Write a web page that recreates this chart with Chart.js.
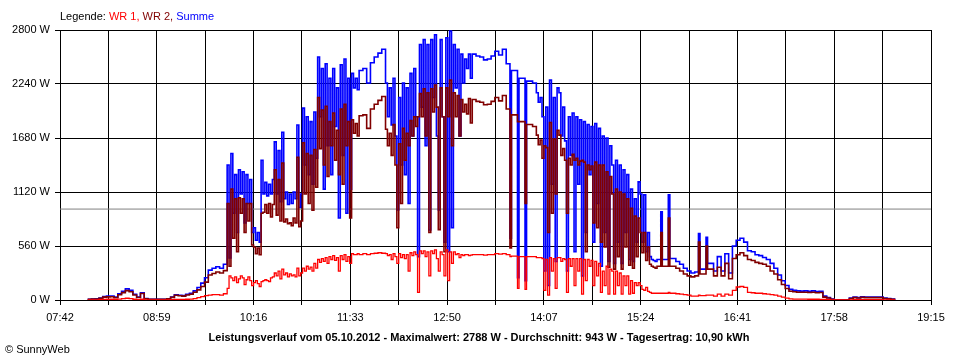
<!DOCTYPE html>
<html>
<head>
<meta charset="utf-8">
<script src="https://cdn.jsdelivr.net/npm/chart.js@4"></script>
<style>
  body { margin:0; background:#fff; }
  #wrap { position:relative; width:960px; height:360px; font-family:"Liberation Sans", Arial, sans-serif; }
  #legend { position:absolute; left:60px; top:10px; font-size:11px; color:#000; white-space:nowrap; }
  #title { position:absolute; left:0; width:958px; top:331px; text-align:center; font-size:11px; font-weight:bold; white-space:nowrap; }
  #copy { position:absolute; left:5px; top:343px; font-size:11px; white-space:nowrap; }
</style>
</head>
<body>
<div id="wrap">
  <canvas id="c" width="960" height="360"></canvas>
  <div id="legend">Legende: <span style="color:#ff0000">WR 1, </span><span style="color:#800000">WR 2, </span><span style="color:#0000ff">Summe</span></div>
  <div id="title">Leistungsverlauf vom 05.10.2012 - Maximalwert: 2788 W - Durchschnitt: 943 W - Tagesertrag: 10,90 kWh</div>
  <div id="copy">© SunnyWeb</div>
</div>
<script>
// axis range in minutes after midnight
const axisStart = 462;   // 07:42
const axisEnd = 1155;    // 19:15
const gridStep = 38.5;
const yTicks = [0, 560, 1120, 1680, 2240, 2800];
const average = 943;

// sample times (minutes after midnight)
const times = [
 484,487,490,493,496,499,502,505,508,511, 514,517,520,523,526,529,532,535,538,541,
 544,547,550,553,556,559,562,565,568,571, 574,577,580,583,586,589,592,
 595,596.5,598,599.5,601,602.5,604,605.5,607,608.5, 610,611.5,613,614.5,616,617.5,619,620.5,622,623.5,
 625,626.5,628,629.5,631,632.5,634,635.5,637,638.5, 640,641.5,643,644.5,646,647.5,649,650.5,652,653.5,
 655,656.5,658,659.5,661,662.5,664,665.5,667,668.5, 670,671.5,673,674.5,676,677.5,679,680.5,682,683.5,
 685,686.5,688,689.5,691,692.5,694,695.5,697,698.5, 700,
 703,706,709,712,715,718,
 721,722.5,724,725.5,727,728.5,730,731.5,733,734.5, 736,737.5,739,740.5,742,743.5,745,746.5,748,749.5,
 751,752.5,754,755.5,757,758.5,760,761.5,763,764.5, 766,767.5,769,770.5,772,773.5,775,776.5,778,779.5,
 781,782.5,784,785.5,787,788.5,790,
 793,796,799,802,805,808,811,814,817,820, 821.2,823,826,827.2,829,832,833.2,835,838,
 841,842.5,844,845.5,847,848.5,850,851.5,853,854.5, 856,857.5,859,860.5,862,863.5,865,866.5,868,869.5,
 871,872.5,874,875.5,877,878.5,880,881.5,883,884.5, 886,887.5,889,890.5,892,893.5,895,896.5,898,899.5,
 901,902.5,904,905.5,907,908.5,910,911.5,913,914.5, 916,917.5,919,920.5,922,923.5,925,926.5,928,929.5,
 931,932.5,934,935.5,937,
 940,941.2,943,946,947.2,949,952,955,958,961, 964,967,970,971.2,973,976,977.2,979,982,985,
 988,991,994,997,1000,1003,1006,
 1009,1012,1015,1018,1021,1024,1027,1030,1033,1036, 1039,1042,1045,1048,1051,1054,1057,1060,1063,1066,
 1069,1072,1075,1078,1081,1084,1087,1090,1093,1096, 1099,1102,1105,1108,1111,1114,1117,1120,1123,1126
];

// Summe (W)
const summe = [
 8,10,12,20,35,40,42,30,65,90, 115,100,60,30,75,15,8,6,6,6,
 8,12,30,55,50,45,60,70,95,130, 175,230,310,330,345,330,370,
 1400,435,1520,900,1300,700,1350,1100,1330,800, 1300,1000,1250,700,750,620,700,600,1450,1100,
 1220,1080,1200,1100,1250,1640,1100,1550,1020,1740, 1050,1120,990,1100,1000,1120,1050,1815,960,1100,
 1990,1400,1900,1300,1850,1200,1950,1470,2520,1900, 2400,1150,2450,1600,2300,1300,2400,1800,2200,850,
 2440,1500,2500,900,2300,1150,2350,2200,2300,2180, 2380,
 2400,2250,2460,2520,2560,2600,
 2250,1900,2200,1815,2300,1700,933,2100,1400,2250, 1300,2200,1000,2350,1700,2400,1900,450,2650,2000,
 2700,1600,2650,726,2700,2100,2750,1700,933,2700, 1900,600,2720,500,2788,750,2650,2200,2600,1700,
 2550,2250,2500,2400,2550,2300,2550,
 2530,2520,2490,2500,2530,2580,2540,2600,2450,640, 2380,2380,230,2300,2300,200,2270,2270,2250,
 2150,2050,2100,1900,300,2000,150,2280,1200,2100, 400,2200,2150,1700,2000,1650,300,1900,1500,1940,
 500,1900,1200,1870,250,1850,700,1820,1300,1800, 600,1830,1000,1780,350,1700,700,1680,400,1600,
 1400,380,1450,600,1400,380,1350,700,1300,420, 1150,400,1050,600,1225,1100,600,1090,500,700,
 450,420,410,400,420,
 915,420,420,1090,430,430,400,370,330,300, 280,290,690,320,320,650,380,380,300,450,
 300,480,280,560,620,640,600,
 510,500,470,460,440,420,380,330,260,200, 150,110,100,95,92,95,90,95,88,90,
 40,25,10,0,0,0,0,20,30,25, 32,30,30,30,30,30,20,15,10,0
];

// WR 1 (W)
const wr1 = [
 0,0,2,3,5,8,8,6,10,14, 18,15,8,4,8,2,0,0,0,0,
 0,0,3,6,6,5,8,10,15,25, 35,45,50,55,55,50,65,
 120,250,230,200,240,180,220,250,230,160, 210,240,200,150,180,200,170,140,190,200,
 210,200,190,230,240,280,250,300,220,320, 260,280,240,270,250,260,240,330,250,280,
 330,300,350,320,340,300,380,330,420,390, 430,400,440,380,450,420,460,410,440,300,
 460,420,470,400,450,380,480,470,470,480, 470,
 480,470,480,485,490,485,
 480,460,470,420,480,450,380,480,440,470, 430,470,300,490,460,500,470,80,510,480,
 510,450,500,250,510,480,520,430,300,500, 470,250,520,200,500,380,500,470,480,440,
 470,460,470,470,460,465,470,
 470,470,465,470,470,480,475,480,470,450, 455,455,120,450,450,110,450,450,450,
 440,440,440,430,100,420,50,440,300,430, 120,440,440,400,430,420,80,430,350,430,
 150,430,300,430,60,420,200,420,350,410, 150,400,250,380,80,300,150,350,60,320,
 300,60,300,150,280,60,250,150,250,60, 200,70,180,150,180,150,110,100,130,90,
 80,70,70,70,70,
 70,70,70,80,70,70,65,60,55,50, 40,40,50,45,45,50,50,50,40,60,
 40,60,50,100,135,140,130,
 80,75,70,70,65,60,55,50,40,30, 20,12,10,10,10,10,8,8,8,6,
 5,3,2,0,0,0,0,2,3,3, 3,3,3,3,3,3,2,2,1,0
];

// WR 2 (W)
const wr2 = [
 8,10,10,17,30,32,34,24,55,76, 97,85,52,26,67,13,8,6,6,6,
 8,12,27,49,44,40,52,60,80,105, 140,185,260,275,290,280,305,
 1000,350,1150,640,1050,500,1060,900,1050,700, 1000,820,1000,570,550,480,540,470,900,910,
 990,900,1000,860,990,1350,880,1250,820,1420, 810,840,790,800,770,850,800,1480,760,820,
 1630,1100,1520,1000,1500,930,1560,1170,2100,1570, 1970,1400,2010,1280,1850,1600,1940,1450,1760,1300,
 1980,1200,2030,1600,1850,850,1870,1730,1830,1700, 1910,
 1920,1780,1980,2030,2070,2110,
 1770,1600,1730,1500,1820,1400,750,1620,1000,1780, 1450,1730,1600,1860,1700,1900,1800,1900,2140,1900,
 2190,1700,2150,700,2190,1950,2230,2000,730,2200, 1900,500,2200,1900,2280,1600,2150,1900,2120,1700,
 2080,1950,2030,1930,2090,1835,2080,
 2060,2050,2025,2030,2060,2100,2065,2120,1980,540, 1920,1920,1850,1850,1850,1000,1820,1820,1800,
 1710,1610,1660,1470,1600,1580,700,1840,900,1670, 1100,1760,1710,1500,1570,1450,900,1470,1400,1510,
 1450,1470,1400,1440,1450,1430,500,1400,1350,1390, 800,1430,750,1400,600,1400,550,1330,340,1280,
 1100,320,1150,450,1120,320,1100,550,1050,360, 950,330,870,450,850,700,490,700,410,550,
 370,350,340,330,350,
 700,350,350,850,350,350,330,300,270,250, 240,250,600,270,270,560,320,320,250,340,
 250,380,220,430,470,490,460,
 420,410,390,380,370,350,300,270,210,160, 120,90,85,80,80,80,78,80,75,78,
 30,20,8,0,0,0,0,15,25,20, 27,25,25,25,25,25,16,12,8,0
];

const toPts = arr => times.map((t, i) => ({ x: t, y: arr[i] }));

function hhmm(m) {
  const h = Math.floor(m / 60), mm = Math.round(m % 60);
  return String(h).padStart(2, '0') + ':' + String(mm).padStart(2, '0');
}

new Chart(document.getElementById('c'), {
  type: 'line',
  data: {
    datasets: [
      { label: 'WR 1', data: toPts(wr1), borderColor: '#ff0000', borderWidth: 1.3, stepped: true, pointRadius: 0, order: 1 },
      { label: 'WR 2', data: toPts(wr2), borderColor: '#800000', borderWidth: 1.6, stepped: true, pointRadius: 0, order: 2 },
      { label: 'Summe', data: toPts(summe), borderColor: '#0000ff', borderWidth: 1.6, stepped: true, pointRadius: 0, order: 3 },
      { label: 'Durchschnitt', data: [{ x: axisStart, y: average }, { x: axisEnd, y: average }], borderColor: '#808080', borderWidth: 1, pointRadius: 0, order: 4 }
    ]
  },
  options: {
    responsive: false,
    animation: false,
    layout: { padding: { left: 0, right: 29, top: 30, bottom: 35 } },
    plugins: { legend: { display: false }, tooltip: { enabled: false } },
    scales: {
      x: {
        type: 'linear',
        min: axisStart,
        max: axisEnd,
        afterBuildTicks: s => {
          const t = [];
          for (let v = axisStart; v <= axisEnd + 0.01; v += gridStep) t.push({ value: v });
          s.ticks = t;
        },
        afterFit: s => { s.height = 25; },
        grid: { color: '#000', lineWidth: 1, tickLength: 5, tickColor: '#000' },
        border: { color: '#000' },
        ticks: {
          autoSkip: false,
          maxRotation: 0,
          padding: 6,
          color: '#000',
          font: { family: 'Liberation Sans', size: 11 },
          callback: (v, i) => (i % 2 === 0 ? hhmm(v) : '')
        }
      },
      y: {
        min: 0,
        max: 2800,
        afterBuildTicks: s => { s.ticks = yTicks.map(v => ({ value: v })); },
        afterFit: s => { s.width = 60; },
        grid: { color: '#000', lineWidth: 1, tickLength: 5, tickColor: '#000' },
        border: { color: '#000' },
        ticks: {
          padding: 5,
          color: '#000',
          font: { family: 'Liberation Sans', size: 11 },
          callback: v => v + ' W'
        }
      }
    }
  }
});
</script>
</body>
</html>
